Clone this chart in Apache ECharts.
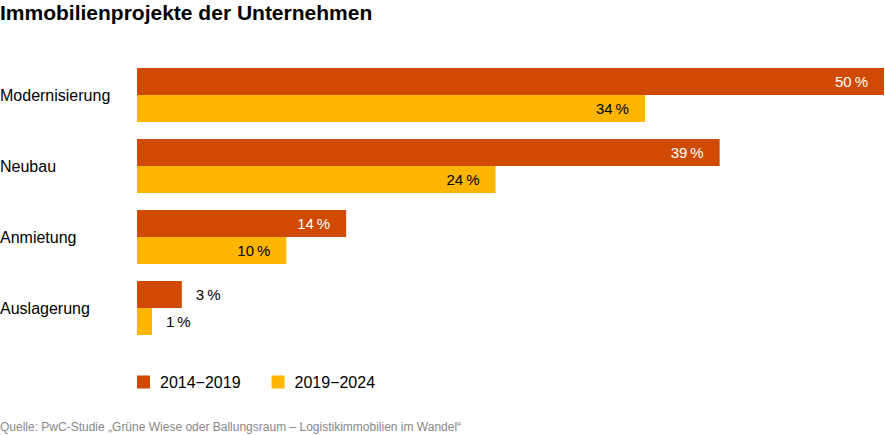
<!DOCTYPE html>
<html><head><meta charset="utf-8">
<script src="https://cdn.jsdelivr.net/npm/echarts@6/dist/echarts.min.js"></script>
<style>html,body{margin:0;padding:0;background:#fff}#c{width:885px;height:435px}</style>
</head><body><div id="c"></div>
<script>
const categories = ["Modernisierung", "Neubau", "Anmietung", "Auslagerung"];
const seriesNames = ["2014−2019", "2019−2024"];
const values2014 = [50, 39, 14, 3];
const values2019 = [34, 24, 10, 1];
const colors = ["#D04A02", "#FFB600"];
const insideThreshold = 5;

const FONT = '"Liberation Sans", Arial, Helvetica, sans-serif';
function mkData(vals, insideColor) {
  return vals.map(v => ({
    value: v,
    label: v >= insideThreshold
      ? { position: 'insideRight', distance: 16, color: insideColor }
      : { position: 'right', distance: 14, color: '#000' }
  }));
}
const chart = echarts.init(document.getElementById('c'), null, {renderer: 'svg'});
chart.setOption({
  animation: false,
  title: {
    text: 'Immobilienprojekte der Unternehmen', left: 0, top: 0, padding: [2, 0, 0, 0],
    textStyle: {fontFamily: FONT, fontSize: 21, fontWeight: 'bold', color: '#000'}
  },
  legend: {
    left: 132, top: 369, itemWidth: 13, itemHeight: 13, itemGap: 31,
    icon: 'rect',
    textStyle: {fontFamily: FONT, fontSize: 16, color: '#000', padding: [0,0,0,5]},
    data: seriesNames
  },
  graphic: [{
    type: 'text', left: 0, top: 421,
    style: {text: 'Quelle: PwC-Studie „Grüne Wiese oder Ballungsraum – Logistikimmobilien im Wandel“',
      fontFamily: FONT, fontSize: 12, fill: '#888'}
  }],
  grid: {left: 137, right: 1, top: 59.5, bottom: 91.5, containLabel: false, outerBoundsMode: 'none'},
  xAxis: {type: 'value', min: 0, max: 50, show: false},
  yAxis: {
    type: 'category', data: categories, inverse: true,
    axisLine: {show: false}, axisTick: {show: false},
    axisLabel: {align: 'left', margin: 137, fontFamily: FONT, fontSize: 16, color: '#000'}
  },
  series: [
    {name: seriesNames[0], type: 'bar', data: mkData(values2014, '#fff'), barWidth: 27, barGap: '0%',
      itemStyle: {color: colors[0]},
      label: {show: true, fontFamily: FONT, fontSize: 15, formatter: p => p.value + '\u2009%'}},
    {name: seriesNames[1], type: 'bar', data: mkData(values2019, '#000'), barWidth: 27, barGap: '0%',
      itemStyle: {color: colors[1]},
      label: {show: true, fontFamily: FONT, fontSize: 15, formatter: p => p.value + '\u2009%'}}
  ]
});
</script></body></html>
